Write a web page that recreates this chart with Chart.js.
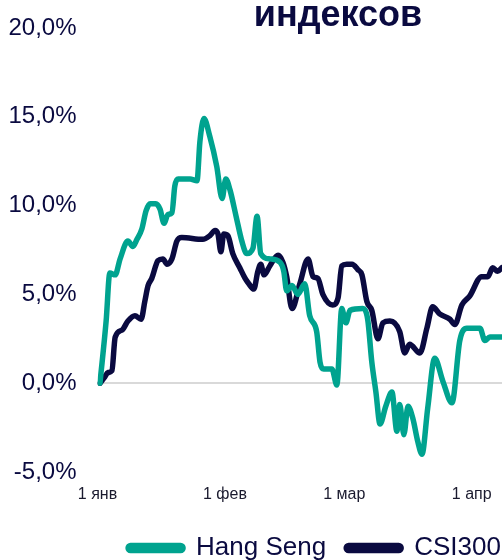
<!DOCTYPE html>
<html>
<head>
<meta charset="utf-8">
<script src="https://cdn.jsdelivr.net/npm/chart.js@4"></script>
<style>
  html, body { margin: 0; padding: 0; background: #fff; }
  body { width: 502px; height: 560px; overflow: hidden; position: relative; }
  #wrap { position: absolute; left: 0; top: 0; width: 621px; height: 571px; }
  #title {
    position: absolute; top: -4px; left: 338px; transform: translateX(-50%);
    font: bold 36px "Liberation Sans", Arial, sans-serif; line-height: 36px;
    color: #0a0a40; white-space: nowrap;
  }
</style>
</head>
<body>
<div id="wrap">
  <canvas id="chart" width="621" height="571"></canvas>
</div>
<div id="title">индексов</div>
<script>
// days since 1 Jan, % change
const hsDays = [0.6, 2.1, 3.0, 4.3, 5.5, 7.4, 8.6, 9.6, 10.8, 11.8, 12.8, 14.2, 15.2, 16.2, 17.1, 18.1, 18.8, 19.6,
  22.5, 24.2, 24.9, 25.9, 27.3, 29.0, 30.3, 31.2, 32.2, 33.7, 35.1, 36.3, 37.8, 38.8, 39.7, 41.9, 44.4, 45.3, 46.0,
  47.3, 48.7, 50.4, 51.6, 53.3, 54.1, 55.0, 57.0, 58.2, 59.4, 60.4, 61.4, 64.5, 65.7, 66.7, 67.7, 68.7, 70.1, 71.6,
  72.8, 73.5, 74.5, 75.5, 76.7, 77.9, 78.9, 80.3, 82.0, 84.0, 86.2, 88.1, 89.8, 93.0, 94.2, 95.4, 98.3];
const hangSeng = [0.0, 3.5, 6.2, 6.1, 7.0, 8.0, 7.7, 8.1, 8.7, 9.7, 10.1, 10.1, 9.8, 9.0, 9.5, 9.6, 11.1, 11.5,
  11.5, 11.4, 13.6, 14.9, 13.9, 12.2, 10.4, 11.5, 10.9, 9.4, 8.0, 7.3, 7.6, 9.4, 7.3, 7.0, 6.8, 6.3, 5.2,
  5.5, 5.0, 5.6, 3.8, 2.9, 1.2, 0.8, 0.8, -0.1, 4.2, 3.4, 4.1, 4.2, 3.6, 1.2, -0.5, -2.3, -1.3, -0.5,
  -2.7, -1.2, -2.9, -1.3, -2.0, -3.3, -4.0, -1.4, 1.4, 0.1, -1.1, 2.4, 3.1, 3.1, 2.4, 2.6, 2.6];

const csiDays = [0.6, 1.6, 2.6, 3.5, 4.3, 6.0, 7.4, 9.1, 10.6, 11.5, 12.3, 13.2, 14.7, 15.9, 16.9, 18.1, 19.3, 20.5,
  25.6, 27.3, 28.6, 29.3, 30.0, 30.7, 31.7, 32.9, 34.6, 35.9, 36.8, 38.0, 39.0, 39.7, 40.5, 41.9, 43.9, 45.1, 46.0,
  47.3, 49.2, 51.2, 52.4, 53.6, 54.8, 57.2, 58.5, 59.4, 60.6, 61.9, 63.3, 64.3, 65.5, 66.7, 68.2, 69.4, 71.1,
  73.5, 74.7, 75.9, 78.4, 80.1, 81.5, 83.2, 85.7, 86.9, 88.6, 90.5, 93.4, 94.9, 96.1, 97.3, 98.3];
const csi300 = [0.0, 0.3, 0.6, 0.7, 2.6, 3.0, 3.5, 3.8, 3.6, 4.6, 5.5, 5.9, 6.9, 7.0, 6.7, 7.0, 8.0, 8.2,
  8.1, 8.3, 8.6, 8.4, 7.4, 8.4, 8.3, 7.3, 6.5, 5.9, 5.6, 5.3, 6.3, 6.7, 6.1, 6.6, 7.2, 6.8, 6.0,
  4.2, 5.6, 7.0, 6.0, 5.9, 5.0, 4.4, 4.8, 6.6, 6.7, 6.7, 6.4, 6.1, 4.6, 4.1, 2.5, 3.4, 3.5,
  2.9, 1.7, 2.2, 1.7, 3.1, 4.3, 3.9, 3.6, 3.3, 4.4, 4.9, 6.0, 6.0, 6.5, 6.3, 6.5];

const tickDays = [0, 31, 60, 91];
const tickLabels = ['1 янв', '1 фев', '1 мар', '1 апр'];

const NAVY = '#0a0a40';
const TEAL = '#00a38f';
const FONT = "'Liberation Sans', Arial, sans-serif";

function toPoints(xs, ys) {
  return xs.map((x, i) => ({ x: x, y: ys[i] }));
}

const lineStyle = {
  borderWidth: 5.5,
  pointRadius: 0,
  fill: false,
  cubicInterpolationMode: 'monotone',
  borderJoinStyle: 'round',
  borderCapStyle: 'round'
};

new Chart(document.getElementById('chart'), {
  type: 'line',
  data: {
    datasets: [
      Object.assign({ label: 'Hang Seng', data: toPoints(hsDays, hangSeng), borderColor: TEAL, backgroundColor: TEAL }, lineStyle),
      Object.assign({ label: 'CSI300', data: toPoints(csiDays, csi300), borderColor: NAVY, backgroundColor: NAVY }, lineStyle)
    ]
  },
  options: {
    responsive: false,
    animation: false,
    layout: { padding: { left: 8, top: 28, right: 0, bottom: 0 } },
    plugins: {
      tooltip: { enabled: false },
      legend: {
        position: 'bottom',
        labels: {
          boxWidth: 55,
          boxHeight: 5,
          useBorderRadius: true,
          borderRadius: 2.5,
          padding: 20,
          color: NAVY,
          font: { family: FONT, size: 26 }
        }
      }
    },
    scales: {
      x: {
        type: 'linear',
        min: 0,
        max: 127.3,
        grid: { display: false },
        border: { display: false },
        afterBuildTicks: (scale) => {
          scale.ticks = tickDays.map(v => ({ value: v }));
        },
        afterFit: (scale) => { scale.height = 43; },
        ticks: {
          autoSkip: false,
          maxRotation: 0,
          padding: 5,
          color: '#1a1a2e',
          font: { family: FONT, size: 16 },
          callback: (v) => {
            const i = tickDays.indexOf(v);
            return i >= 0 ? tickLabels[i] : '';
          }
        }
      },
      y: {
        min: -5,
        max: 20,
        border: { display: false },
        afterFit: (scale) => {
          scale.width = 89.5;
          scale.paddingTop = 0;
          scale.paddingBottom = 0;
        },
        grid: {
          drawTicks: false,
          lineWidth: 2,
          color: (ctx) => (ctx.tick && ctx.tick.value === 0 ? '#d9d9d9' : 'rgba(0,0,0,0)')
        },
        ticks: {
          stepSize: 5,
          padding: 21,
          color: NAVY,
          font: { family: FONT, size: 24 },
          callback: (v) => v.toFixed(1).replace('.', ',') + '%'
        }
      }
    }
  }
});
</script>
</body>
</html>
